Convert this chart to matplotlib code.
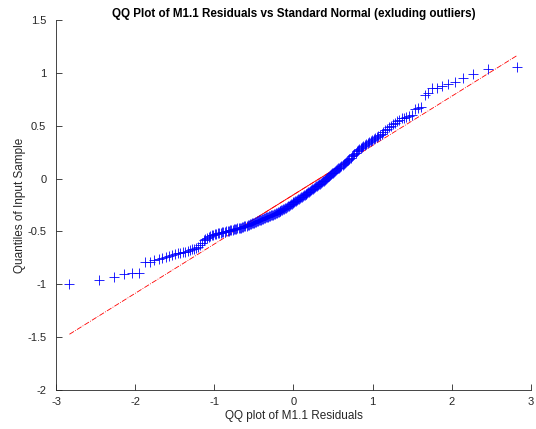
from statistics import NormalDist

import matplotlib
matplotlib.use("Agg")
import matplotlib.pyplot as plt
import numpy as np

plt.rcParams["font.family"] = ["Liberation Sans", "DejaVu Sans"]
plt.rcParams["axes.unicode_minus"] = False

TITLE = "QQ Plot of M1.1 Residuals vs Standard Normal (exluding outliers)"
X_LABEL = "QQ plot of M1.1 Residuals"
Y_LABEL = "Quantiles of Input Sample"

# sorted residuals (outliers already removed)
residuals = [
    -1.00, -0.96, -0.93, -0.905, -0.897, -0.895, -0.79, -0.788, -0.77, -0.76,
    -0.752, -0.745, -0.735, -0.725, -0.716, -0.705, -0.70, -0.695, -0.69, -0.683,
    -0.677, -0.67, -0.662, -0.655, -0.645, -0.625, -0.605, -0.585, -0.57, -0.56,
    -0.55, -0.543, -0.537, -0.532, -0.527, -0.523, -0.519, -0.515, -0.512, -0.509,
    -0.506, -0.503, -0.50, -0.497, -0.494, -0.49, -0.487, -0.484, -0.481, -0.478,
    -0.475, -0.472, -0.469, -0.467, -0.465, -0.46, -0.456, -0.452, -0.448, -0.444,
    -0.44, -0.436, -0.432, -0.428, -0.424, -0.42, -0.416, -0.412, -0.408, -0.404,
    -0.40, -0.396, -0.392, -0.388, -0.384, -0.38, -0.376, -0.372, -0.368, -0.364,
    -0.36, -0.356, -0.352, -0.348, -0.344, -0.34, -0.336, -0.332, -0.328, -0.324,
    -0.32, -0.315, -0.31, -0.305, -0.30, -0.295, -0.29, -0.285, -0.28, -0.274,
    -0.268, -0.262, -0.256, -0.25, -0.244, -0.238, -0.232, -0.226, -0.22, -0.214,
    -0.208, -0.202, -0.196, -0.19, -0.184, -0.178, -0.172, -0.166, -0.16, -0.154,
    -0.148, -0.142, -0.136, -0.13, -0.124, -0.117, -0.11, -0.103, -0.096, -0.089,
    -0.082, -0.075, -0.068, -0.061, -0.054, -0.047, -0.04, -0.033, -0.026, -0.019,
    -0.012, 0.0, 0.008, 0.016, 0.024, 0.032, 0.04, 0.048, 0.056, 0.064,
    0.072, 0.08, 0.088, 0.096, 0.104, 0.112, 0.12, 0.128, 0.137, 0.146,
    0.155, 0.164, 0.174, 0.185, 0.197, 0.209, 0.221, 0.233, 0.245, 0.257,
    0.268, 0.279, 0.29, 0.30, 0.31, 0.32, 0.33, 0.34, 0.35, 0.358,
    0.366, 0.374, 0.382, 0.39, 0.40, 0.41, 0.425, 0.44, 0.455, 0.47,
    0.485, 0.50, 0.515, 0.53, 0.545, 0.555, 0.57, 0.575, 0.585, 0.59,
    0.60, 0.658, 0.672, 0.68, 0.79, 0.807, 0.852, 0.855, 0.88, 0.893,
    0.915, 0.955, 0.985, 1.034, 1.055,
]

x_ticks = [-3, -2, -1, 0, 1, 2, 3]
y_ticks = [-2, -1.5, -1, -0.5, 0, 0.5, 1, 1.5]


def normal_quantiles(n):
    # plotting positions (i - 0.5) / n, as qqplot does
    nd = NormalDist()
    return np.array([nd.inv_cdf((i - 0.5) / n) for i in range(1, n + 1)])


def main():
    y = np.sort(np.array(residuals))
    x = normal_quantiles(len(y))

    # reference line through the first and third quartiles
    qx = np.percentile(x, [25, 75])
    qy = np.percentile(y, [25, 75])
    slope = (qy[1] - qy[0]) / (qx[1] - qx[0])
    icept = qy[0] - slope * qx[0]

    fig = plt.figure(figsize=(5.36, 4.29), dpi=100)
    ax = fig.add_axes([0.1045, 0.0909, 0.886, 0.8625])

    ends = np.array([x.min(), x.max()])
    ax.plot(ends, icept + slope * ends, "-.", color="#ff0000", linewidth=0.6)
    ax.plot(qx, icept + slope * qx, "-", color="#ff0000", linewidth=0.6)
    ax.plot(x, y, "+", color="#0000ff", markersize=6.5, markeredgewidth=0.6)

    ax.set_xlim(-3, 3)
    ax.set_ylim(-2, 1.5)
    ax.set_xticks(x_ticks)
    ax.set_yticks(y_ticks)
    ax.set_yticklabels([f"{v:g}" for v in y_ticks])
    ax.tick_params(direction="in", length=4, width=0.6, colors="#262626", labelsize=8)
    ax.tick_params(axis="x", pad=5)
    ax.tick_params(axis="y", pad=7)
    for side in ("top", "right"):
        ax.spines[side].set_visible(False)
    for side in ("left", "bottom"):
        ax.spines[side].set_color("#262626")
        ax.spines[side].set_linewidth(0.6)

    ax.set_title(TITLE, fontsize=8.4, fontweight="bold", color="#000000", pad=2)
    ax.set_xlabel(X_LABEL, fontsize=8.5, color="#262626", labelpad=2)
    ax.set_ylabel(Y_LABEL, fontsize=8.5, color="#262626", labelpad=0.5)

    fig.savefig("out.png", dpi=100)
    plt.close(fig)


if __name__ == "__main__":
    main()
